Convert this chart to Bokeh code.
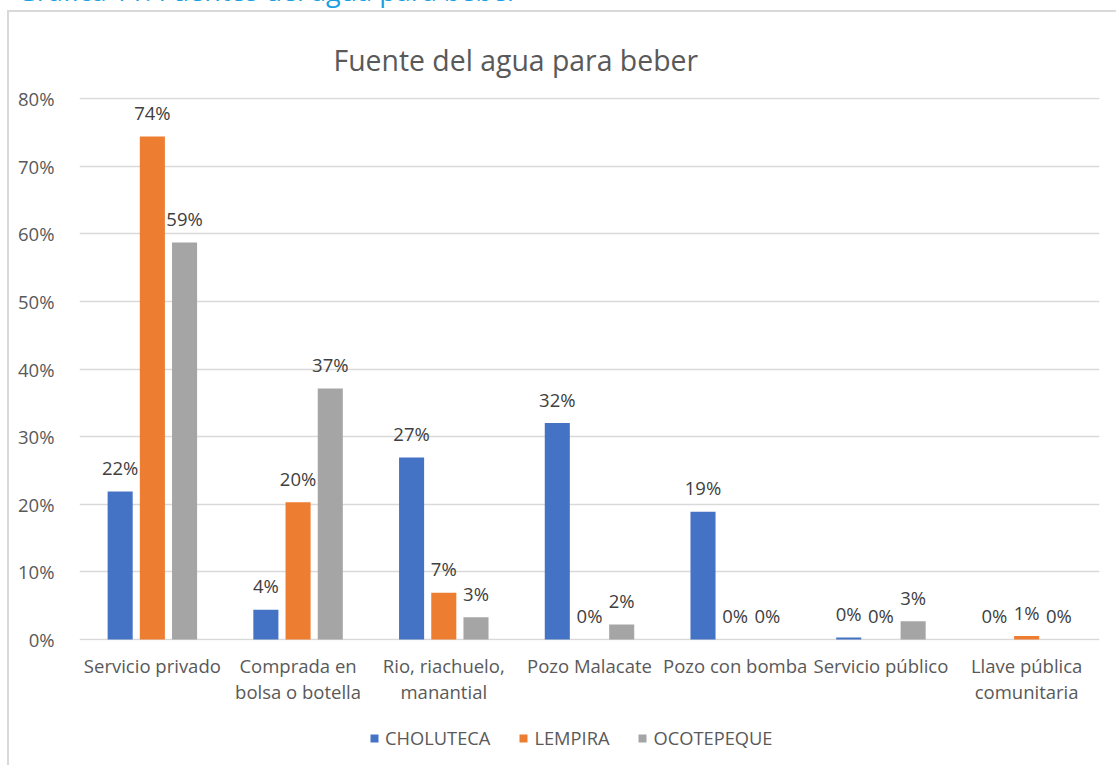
import math
from bokeh.plotting import figure
from bokeh.layouts import column
from bokeh.models import (ColumnDataSource, FactorRange, Range1d, FixedTicker,
                          PrintfTickFormatter, Legend, LegendItem, Div)
from bokeh.transform import dodge
from bokeh.core.properties import value
from bokeh.embed import file_html
from bokeh.resources import INLINE

# ---------------- data ----------------
categories = [
    "Servicio privado",
    "Comprada en\nbolsa o botella",
    "Rio, riachuelo,\nmanantial",
    "Pozo Malacate",
    "Pozo con bomba",
    "Servicio público",
    "Llave pública\ncomunitaria",
]
series_names = ["CHOLUTECA", "LEMPIRA", "OCOTEPEQUE"]
choluteca = [21.9, 4.4, 26.9, 32.0, 18.9, 0.3, 0.0]
lempira = [74.4, 20.3, 6.9, 0.0, 0.0, 0.0, 0.5]
ocotepeque = [58.7, 37.1, 3.3, 2.2, 0.0, 2.7, 0.0]
y_ticks = [0, 10, 20, 30, 40, 50, 60, 70, 80]
title_text = "Fuente del agua para beber"
caption_text = "Gráfica 11: Fuentes del agua para beber"

# ---------------- style ----------------
colors = ["#4472C4", "#ED7D31", "#A5A5A5"]
FONT = "Open Sans"
TXT = "#595959"
GRID = "#d9d9d9"
W = 1116
CAP_H, H1, H2 = 8, 712, 45
BL, BR, BT, BB = 79, 17, 89, 80
Y0, Y1 = -0.15, 80.15

caption = Div(
    text=("<div style=\"position:relative; top:-26px; left:17px; font-family:'Open Sans';"
          " font-size:27px; line-height:34px; color:#1a9fe3; white-space:nowrap;\">"
          + caption_text + "</div>"),
    width=W, height=CAP_H, margin=0, styles={"overflow": "hidden"})

p = figure(width=W, height=H1, output_backend="svg", toolbar_location=None,
           x_range=FactorRange(*categories, range_padding=0),
           y_range=Range1d(Y0, Y1),
           min_border_left=BL, min_border_right=BR,
           min_border_top=BT, min_border_bottom=BB,
           outline_line_color=None, border_fill_color=None,
           background_fill_color=None, margin=0)
p.styles = {
    "background-image": f"linear-gradient({GRID},{GRID}), linear-gradient({GRID},{GRID})",
    "background-size": "2px 100%, 100% 2px",
    "background-position": "7px 2px, 7px 2px",
    "background-repeat": "no-repeat",
}

p.title.text = title_text
p.title.align = "left"
p.title.offset = 254
p.title.standoff = 37
p.title.text_font = FONT
p.title.text_font_size = "28.4px"
p.title.text_font_style = "normal"
p.title.text_color = TXT

offsets = [-0.221, 0.0, 0.221]
sources = []
for name, vals, col, off in zip(series_names, [choluteca, lempira, ocotepeque], colors, offsets):
    labels = [f"{math.floor(v + 0.5)}%" for v in vals]
    src = ColumnDataSource(dict(x=categories, top=vals, label=labels))
    sources.append(src)
    p.vbar(x=dodge("x", off, range=p.x_range), top="top", width=0.172,
           source=src, fill_color=col, line_color=None)
    p.text(x=dodge("x", off, range=p.x_range), y="top", text="label", source=src,
           text_align="center", text_baseline="alphabetic", y_offset=-24,
           text_font=value(FONT), text_font_size="18.5px", text_color="#404040")

# axes
p.xaxis.major_label_text_font = FONT
p.xaxis.major_label_text_font_size = "18.5px"
p.xaxis.major_label_text_color = TXT
p.xaxis.major_label_text_line_height = 1.07
p.xaxis.major_label_standoff = 6
p.xaxis.major_tick_line_color = None
p.xaxis.minor_tick_line_color = None
p.xaxis.axis_line_color = None

p.yaxis.ticker = FixedTicker(ticks=y_ticks)
p.yaxis.formatter = PrintfTickFormatter(format="%d%%")
p.yaxis.major_label_text_font = FONT
p.yaxis.major_label_text_font_size = "18.5px"
p.yaxis.major_label_text_color = TXT
p.yaxis.major_label_standoff = 19
p.yaxis.major_tick_line_color = None
p.yaxis.minor_tick_line_color = None
p.yaxis.axis_line_color = None

p.xgrid.grid_line_color = None
p.ygrid.ticker = FixedTicker(ticks=y_ticks)
p.ygrid.grid_line_color = GRID
p.ygrid.grid_line_width = 1.5

# legend strip: a second figure sharing the x range; its y window lies above
# every bar, so only the legend shows (the legend is not clipped there)
p2 = figure(width=W, height=H2, output_backend="svg", toolbar_location=None,
            x_range=p.x_range, y_range=Range1d(200, 245),
            x_axis_location=None, y_axis_location=None,
            min_border=0, outline_line_color=None, border_fill_color=None,
            background_fill_color=None, margin=0)
p2.grid.grid_line_color = None
p2.styles = {
    "background-image": f"linear-gradient({GRID},{GRID})",
    "background-size": "2px 100%",
    "background-position": "7px 0px",
    "background-repeat": "no-repeat",
}
legend_renderers = []
for src, col, off in zip(sources, colors, offsets):
    legend_renderers.append(p2.vbar(x=dodge("x", off, range=p2.x_range), top="top",
                                    width=0.172, source=src, fill_color=col, line_color=None))

legend = Legend(items=[LegendItem(label=n, renderers=[r]) for n, r in zip(series_names, legend_renderers)],
                location=(290, 15), orientation="horizontal",
                glyph_width=10, glyph_height=10, label_standoff=6, spacing=28,
                padding=0, margin=0, border_line_color=None, background_fill_alpha=0,
                label_text_font=FONT, label_text_font_size="18.3px", label_text_color=TXT)
p2.add_layout(legend)

layout = column(caption, p, p2, spacing=0)
open("out.html", "w").write(file_html(layout, INLINE))
